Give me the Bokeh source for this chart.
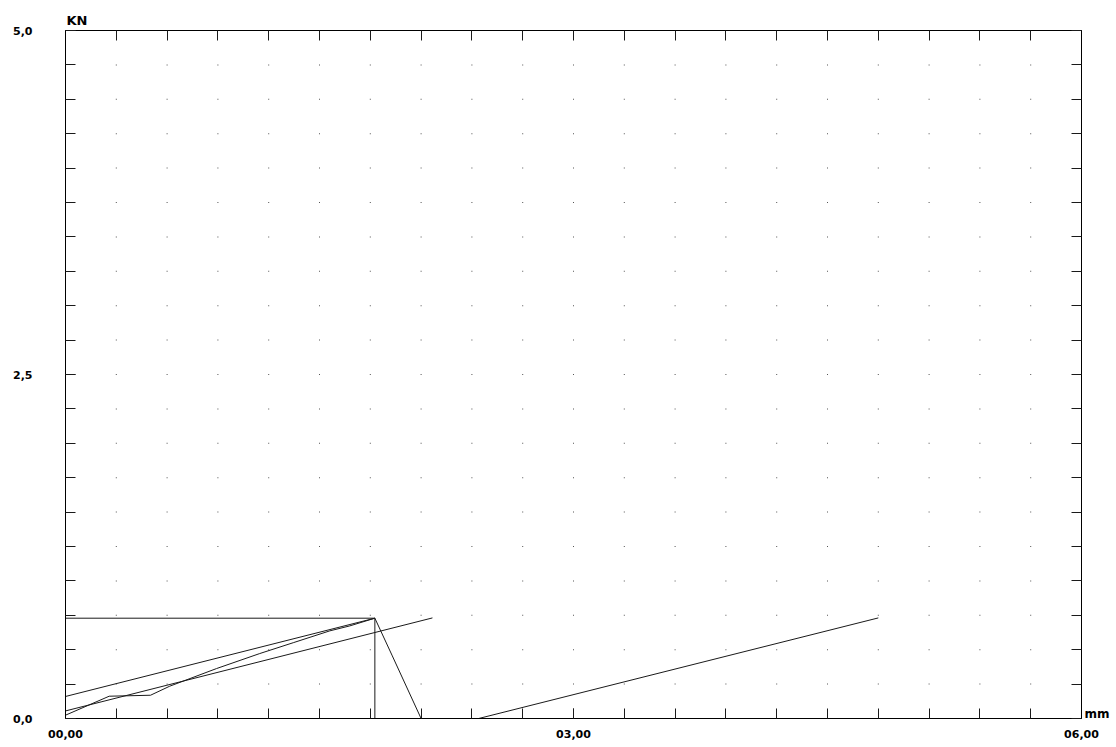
import numpy as np
from bokeh.plotting import figure
from bokeh.models import LinearAxis, FixedTicker, Range1d
from bokeh.embed import file_html
from bokeh.resources import INLINE

# ---- data ----
curve_x = [0.0, 0.258, 0.502, 0.616, 0.892, 1.147, 1.348, 1.561, 1.679, 1.827, 1.93, 2.10]
curve_y = [0.024, 0.162, 0.169, 0.235, 0.363, 0.472, 0.552, 0.637, 0.673, 0.729, 0.455, 0.0]

upper_x = [0.0, 1.827]
upper_y = [0.160, 0.729]

lower_x = [0.0, 2.167]
lower_y = [0.055, 0.731]

far_x = [2.44, 4.80]
far_y = [0.0, 0.731]

peak_x = [0.0, 1.827, 1.827]
peak_y = [0.729, 0.729, 0.0]

x_major = [0, 3, 6]
x_minor = [round(i * 0.3, 2) for i in range(21)]
y_major = [0, 2.5, 5]
y_minor = [round(i * 0.25, 2) for i in range(21)]
x_labels = {0: "00,00", 3: "03,00", 6: "06,00"}
y_labels = {0: "0,0", 2.5: "2,5", 5: "5,0"}
y_unit = "KN"
x_unit = "mm"
x_unit_pos = 0.033  # where the x unit text sits beside the right edge

FONT = "DejaVu Sans"
INK = "#1a1a1a"

p = figure(width=1116, height=747, output_backend="svg", toolbar_location=None,
           x_range=Range1d(0, 6), y_range=Range1d(0, 5),
           x_axis_location=None, y_axis_location=None,
           min_border_left=65, min_border_top=30, min_border_right=35, min_border_bottom=29)
p.xgrid.visible = False
p.ygrid.visible = False
p.outline_line_color = "black"
p.outline_line_width = 1
p.background_fill_color = "white"
p.border_fill_color = "white"

p.title.text = y_unit
p.title.align = "left"
p.title.text_font = FONT
p.title.text_font_style = "bold"
p.title.text_font_size = "13px"
p.title.text_color = "black"
p.title.standoff = 6
p.title.offset = 1


def style_axis(ax):
    ax.major_tick_in = 10
    ax.major_tick_out = 0
    ax.minor_tick_in = 10
    ax.minor_tick_out = 0
    ax.major_tick_line_color = INK
    ax.minor_tick_line_color = INK
    ax.axis_line_color = "black"
    ax.major_label_text_font = FONT
    ax.major_label_text_font_style = "bold"
    ax.major_label_text_font_size = "11px"
    ax.major_label_text_color = "black"


left = LinearAxis()
style_axis(left)
left.ticker = FixedTicker(ticks=y_major, minor_ticks=y_minor)
left.major_label_overrides = y_labels
left.major_label_standoff = 33
p.add_layout(left, "left")

bottom = LinearAxis()
style_axis(bottom)
bottom.ticker = FixedTicker(ticks=x_major, minor_ticks=x_minor)
bottom.major_label_overrides = x_labels
bottom.major_label_standoff = 11
p.add_layout(bottom, "below")

top = LinearAxis()
style_axis(top)
top.ticker = FixedTicker(ticks=[], minor_ticks=x_minor)
top.major_label_standoff = 0
p.add_layout(top, "above")

right = LinearAxis()
style_axis(right)
right.ticker = FixedTicker(ticks=[x_unit_pos], minor_ticks=y_minor)
right.major_tick_line_color = None
right.major_label_overrides = {x_unit_pos: x_unit}
right.major_label_standoff = 3
right.major_label_text_font_size = "12px"
p.add_layout(right, "right")

# dotted grid at interior tick intersections
gx, gy = np.meshgrid(x_minor[1:-1], y_minor[1:-1])
p.rect(gx.ravel(), gy.ravel(), width=1, height=1, width_units="screen",
       height_units="screen", color="#555555", line_width=0)

# data lines
p.line(peak_x, peak_y, line_color=INK, line_width=1)
p.line(upper_x, upper_y, line_color=INK, line_width=1)
p.line(lower_x, lower_y, line_color=INK, line_width=1)
p.line(curve_x, curve_y, line_color=INK, line_width=1)
p.line(far_x, far_y, line_color=INK, line_width=1)

open("out.html", "w").write(file_html(p, INLINE))
